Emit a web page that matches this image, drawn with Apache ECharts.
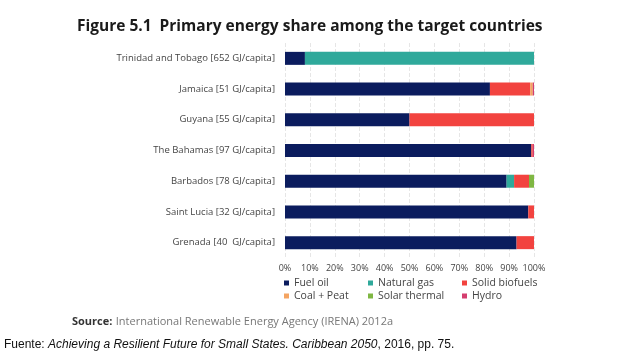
<!DOCTYPE html>
<html><head><meta charset="utf-8">
<script src="https://cdn.jsdelivr.net/npm/echarts@6/dist/echarts.min.js"></script>
<style>html,body{margin:0;padding:0;background:#fff}#c{width:638px;height:359px}</style>
</head><body><div id="c"></div>
<script>
var countries = ["Trinidad and Tobago [652 GJ/capita]","Jamaica [51 GJ/capita]","Guyana [55 GJ/capita]","The Bahamas [97 GJ/capita]","Barbados [78 GJ/capita]","Saint Lucia [32 GJ/capita]","Grenada [40  GJ/capita]"];
var fuelOil      = [8, 82.3, 50, 98.9, 89, 97.7, 93];
var naturalGas   = [92, 0, 0, 0, 3, 0, 0];
var solidBiofuels= [0, 16.2, 50, 0.6, 6, 2.3, 7];
var coalPeat     = [0, 1, 0, 0, 0, 0, 0];
var solarThermal = [0, 0, 0, 0, 2, 0, 0];
var hydro        = [0, 0.5, 0, 0.5, 0, 0, 0];
var seriesNames = ["Fuel oil","Natural gas","Solid biofuels","Coal + Peat","Solar thermal","Hydro"];
var seriesData = [fuelOil, naturalGas, solidBiofuels, coalPeat, solarThermal, hydro];
var colors = ["#0b1c5e","#2fa99b","#f2433f","#f4a462","#7fb743","#d43d6e"];

var chart = echarts.init(document.getElementById('c'), null, {renderer:'canvas'});
var font = "'Open Sans', 'Noto Sans', sans-serif";
function legendCol(left, items){
  return {orient:'vertical', left:left, top:277, padding:0, itemWidth:5, itemHeight:5, itemGap:1, icon:'rect',
    textStyle:{fontSize:10.5, lineHeight:12, color:'#444', fontFamily:font}, data:items};
}
chart.setOption({
  animation:false,
  color: colors,
  title:{text:'Figure 5.1  Primary energy share among the target countries', left:72, top:14,
    textStyle:{fontSize:15.5, fontWeight:'bold', color:'#1a1a1a', fontFamily:font}},
  grid:{left:285, right:104, top:43, bottom:101, containLabel:false},
  legend:[legendCol(284,["Fuel oil","Coal + Peat"]), legendCol(368,["Natural gas","Solar thermal"]), legendCol(462,["Solid biofuels","Hydro"])],
  xAxis:{type:'value', min:0, max:100, interval:10,
    axisLabel:{formatter:'{value}%', fontSize:9, color:'#444', fontFamily:font, margin:6},
    axisLine:{show:false}, axisTick:{show:false},
    splitLine:{show:true, lineStyle:{color:'#e6e6e6', type:'dashed'}}},
  yAxis:{type:'category', inverse:true, data:countries,
    axisLine:{show:false}, axisTick:{show:false},
    axisLabel:{fontSize:9.5, color:'#444', fontFamily:font, margin:10}},
  series: seriesNames.map(function(n,i){
    return {name:n, type:'bar', stack:'s', barWidth:13, data:seriesData[i], itemStyle:{color:colors[i]}};
  }),
  graphic:[
    {type:'text', left:72, top:316, style:{text:'{b|Source:} {n|International Renewable Energy Agency (IRENA) 2012a}',
      rich:{b:{fontWeight:'bold', fontSize:11, fill:'#333', fontFamily:font}, n:{fontSize:11, fill:'#777', fontFamily:font}}}},
    {type:'text', left:4, top:339, style:{text:'Fuente: {i|Achieving a Resilient Future for Small States. Caribbean 2050}, 2016, pp. 75.',
      fontSize:12, fill:'#111', fontFamily:"'Liberation Sans', sans-serif",
      rich:{i:{fontStyle:'italic', fontSize:12, fill:'#111', fontFamily:"'Liberation Sans', sans-serif"}}}}
  ]
});
</script></body></html>
